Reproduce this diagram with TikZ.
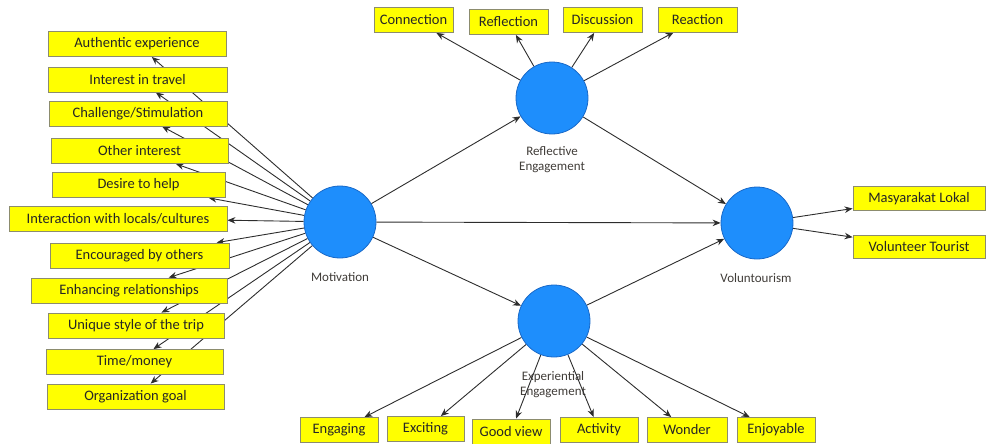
\documentclass[tikz,border=0pt]{standalone}
\usepackage{fontspec}
\setmainfont{Carlito}
\usetikzlibrary{arrows.meta,backgrounds}

\definecolor{itemfill}{RGB}{255,255,0}
\definecolor{itemedge}{RGB}{140,140,110}
\definecolor{circlefill}{RGB}{30,142,252}
\definecolor{circleedge}{RGB}{25,105,200}
\definecolor{captiontext}{RGB}{64,60,56}
\definecolor{linkcol}{RGB}{45,45,45}

\tikzset{
  item/.style={draw=itemedge, fill=itemfill, line width=0.8pt, minimum height=25pt,
    inner sep=0pt, font=\fontsize{14.5}{16}\selectfont, text=black!85},
  construct/.style={circle, draw=circleedge, fill=circlefill, line width=0.8pt,
    minimum size=72pt, inner sep=0pt},
  caption/.style={font=\fontsize{13}{15}\selectfont, text=captiontext, align=center, inner sep=0pt},
  link/.style={draw=linkcol, line width=0.9pt, -{Stealth[length=8pt,width=6.5pt]}}
}

\begin{document}
\begin{tikzpicture}[x=1pt,y=-1pt]
\useasboundingbox (0,0) rectangle (987,444);

% latent constructs
\node[construct] (mot) at (340,222) {};
\node[construct] (ref) at (552,98) {};
\node[construct] (exp) at (554,321) {};
\node[construct] (vol) at (757,223) {};

% motivation indicators
\node[item, minimum width=178pt] (ae) at (137,44) {Authentic experience};
\node[item, minimum width=179pt] (it) at (137.5,79.5) {Interest in travel};
\node[item, minimum width=178pt] (cs) at (138,113.5) {Challenge/Stimulation};
\node[item, minimum width=177pt] (oi) at (139.5,151) {Other interest};
\node[item, minimum width=173pt] (dh) at (138.5,185) {Desire to help};
\node[item, minimum width=218pt] (il) at (118,218.5) {Interaction with locals/cultures};
\node[item, minimum width=179pt] (eo) at (139.5,255.5) {Encouraged by others};
\node[item, minimum width=196pt] (er) at (129,290.5) {Enhancing relationships};
\node[item, minimum width=176pt] (us) at (136,325.5) {Unique style of the trip};
\node[item, minimum width=177pt] (tm) at (134.5,362) {Time/money};
\node[item, minimum width=177pt] (og) at (135.5,396.5) {Organization goal};

% reflective engagement indicators
\node[item, minimum width=79pt] (cn) at (413.5,20) {Connection};
\node[item, minimum width=79pt] (rf) at (508.5,22) {Reflection};
\node[item, minimum width=79pt] (ds) at (602.5,20) {Discussion};
\node[item, minimum width=79pt] (ra) at (697.5,19.5) {Reaction};

% experiential engagement indicators
\node[item, minimum width=78pt] (eg) at (339,430) {Engaging};
\node[item, minimum width=77pt] (ex) at (425.5,429) {Exciting};
\node[item, minimum width=78pt] (gv) at (511,431.5) {Good view};
\node[item, minimum width=78pt] (ac) at (599,430) {Activity};
\node[item, minimum width=80pt] (wd) at (687,430) {Wonder};
\node[item, minimum width=78pt] (ej) at (776,430) {Enjoyable};

% voluntourism indicators
\node[item, minimum width=132pt, minimum height=24pt] (ml) at (919,198.5) {Masyarakat Lokal};
\node[item, minimum width=132pt, minimum height=23pt] (vt) at (919,247) {Volunteer Tourist};

\begin{scope}[on background layer]
  % construct captions
  \node[caption] (motl) at (340,277) {Motivation};
  \node[caption] (refl) at (552,160) {Reflective\\Engagement};
  \node[caption] (expl) at (553,385) {Experiential\\Engagement};
  \node[caption] (voll) at (756,278) {Voluntourism};

  % structural paths
  \draw[link] (mot) -- (ref);
  \draw[link] (mot) -- (exp);
  \draw[link] (mot) -- (vol);
  \draw[link] (ref) -- (vol);
  \draw[link] (exp) -- (vol);

  % outer loadings
  \foreach \t in {ae,it,cs,oi,dh,il,eo,er,us,tm,og}
    \draw[link] (mot) -- (\t);
  \foreach \t in {cn,rf,ds,ra}
    \draw[link] (ref) -- (\t);
  \foreach \t in {eg,ex,gv,ac,wd,ej}
    \draw[link] (exp) -- (\t);
  \foreach \t in {ml,vt}
    \draw[link] (vol) -- (\t);
\end{scope}
\end{tikzpicture}
\end{document}
